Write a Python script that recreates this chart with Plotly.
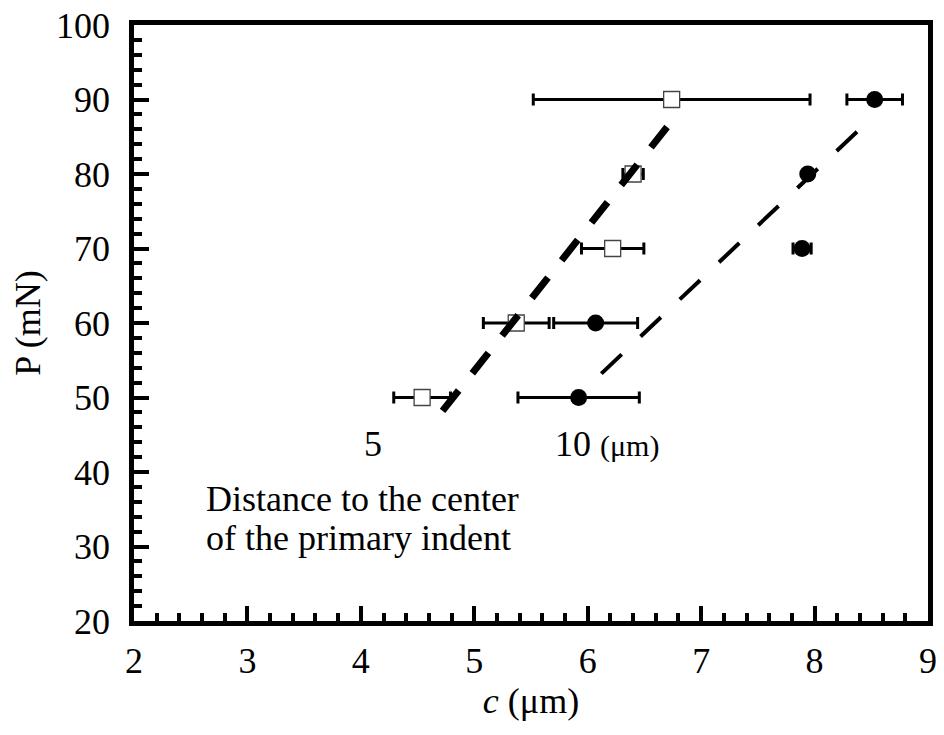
import plotly.graph_objects as go

# Load P (mN) against crack length c (um)
load = [50, 60, 70, 80, 90]

# open squares: c and its scatter
c_open = [4.54, 5.37, 6.22, 6.40, 6.74]
c_open_err = [0.25, 0.29, 0.275, 0.09, 1.22]

# filled circles: c and its scatter
c_filled = [5.92, 6.07, 7.89, 7.94, 8.53]
c_filled_err = [0.535, 0.37, 0.08, 0.0, 0.245]

# linear fits, drawn as dashed lines (end points)
fit_open_c = [4.72, 6.72]
fit_open_p = [48.2, 86.7]
fit_filled_c = [6.12, 8.535]
fit_filled_p = [53.2, 88.0]

x_ticks = [2, 3, 4, 5, 6, 7, 8, 9]
y_ticks = [20, 30, 40, 50, 60, 70, 80, 90, 100]

FONT = "Liberation Serif, Times New Roman, serif"

fig = go.Figure()

fig.add_trace(go.Scatter(
    x=c_open, y=load, mode="markers",
    marker=dict(symbol="square", size=16, color="white",
                line=dict(color="#444444", width=1.3)),
    error_x=dict(type="data", array=c_open_err, visible=True,
                 color="black", thickness=3, width=6),
    showlegend=False,
))

fig.add_trace(go.Scatter(
    x=c_filled, y=load, mode="markers",
    marker=dict(symbol="circle", size=17, color="black"),
    error_x=dict(type="data", array=c_filled_err, visible=True,
                 color="black", thickness=3, width=6),
    showlegend=False,
))

fig.add_trace(go.Scatter(
    x=fit_open_c, y=fit_open_p, mode="lines",
    line=dict(color="black", width=7, dash="26px,22px"),
    showlegend=False,
))

fig.add_trace(go.Scatter(
    x=fit_filled_c, y=fit_filled_p, mode="lines",
    line=dict(color="black", width=4, dash="28px,26px"),
    showlegend=False,
))

fig.add_annotation(x=4.11, y=43.7, text="5", showarrow=False,
                   font=dict(family=FONT, size=36, color="black"))
fig.add_annotation(x=5.69, y=43.7, xanchor="left",
                   text="10 <span style='font-size:30px'>(μm)</span>",
                   showarrow=False,
                   font=dict(family=FONT, size=36, color="black"))
fig.add_annotation(x=2.62, y=36.4, xanchor="left",
                   text="Distance to the center", showarrow=False,
                   font=dict(family=FONT, size=36, color="black"))
fig.add_annotation(x=2.62, y=31.1, xanchor="left",
                   text="of the primary indent", showarrow=False,
                   font=dict(family=FONT, size=36, color="black"))

axis_common = dict(
    showgrid=False, zeroline=False, automargin=False,
    showline=True, linecolor="black", linewidth=4.5, mirror=True,
    ticks="inside", tickcolor="black", tickwidth=4, ticklen=15,
    tickfont=dict(family=FONT, size=36, color="black"),
)

fig.update_xaxes(
    range=[2, 9], tickmode="array", tickvals=x_ticks,
    ticklabelstandoff=4,
    minor=dict(dtick=0.2, ticks="inside", ticklen=8, tickwidth=4,
               tickcolor="black"),
    title=dict(text="<i>c</i> (μm)", standoff=6,
               font=dict(family=FONT, size=36, color="black")),
    **axis_common,
)
fig.update_yaxes(
    range=[20, 100], tickmode="array", tickvals=y_ticks,
    ticklabelstandoff=12,
    minor=dict(dtick=2, ticks="inside", ticklen=8, tickwidth=4,
               tickcolor="black"),
    title=dict(text="P (mN)", standoff=6,
               font=dict(family=FONT, size=36, color="black")),
    **axis_common,
)

fig.update_layout(
    width=944, height=735,
    margin=dict(l=134, r=16, t=25, b=114),
    paper_bgcolor="white", plot_bgcolor="white",
)

fig.write_html("out.html")
